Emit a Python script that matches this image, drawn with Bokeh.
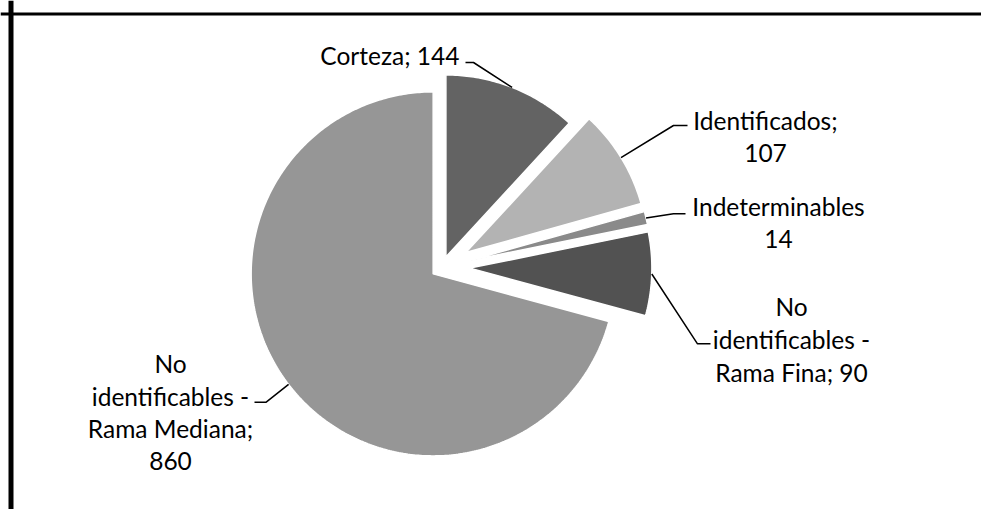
import numpy as np
from bokeh.plotting import figure
from bokeh.models import Range1d, Span, ColumnDataSource
from bokeh.core.properties import value
from bokeh.embed import file_html
from bokeh.resources import INLINE

# ---- data ----
categories = ["Corteza", "Identificados", "Indeterminables",
              "No identificables - Rama Fina", "No identificables - Rama Mediana"]
values = [144, 107, 14, 90, 860]
colors = ["#636363", "#b3b3b3", "#8a8a8a", "#525252", "#969696"]
label_lines = [
    ["Corteza; 144"],
    ["Identificados;", "107"],
    ["Indeterminables", "14"],
    ["No", "identificables -", "Rama Fina; 90"],
    ["No", "identificables -", "Rama Mediana;", "860"],
]

# ---- layout (pixel-like data coordinates, y downward) ----
W, H = 981, 509
cx, cy, R = 441.4, 266.7, 182.0
explode = [11, 28, 28, 28, 11]
label_x = [459, 765, 778, 791, 170]
label_y0 = [54.7, 119.7, 206.3, 306.3, 363.0]
label_align = ["right", "center", "center", "center", "center"]
line_step = 32.6
leader_elbow = [(473, 62), (673, 125), (673, 213.3), (697, 343.3), (265.7, 401.7)]
leader_end = [(465, 62), (687, 125), (685, 213.3), (710, 343.3), (254, 401.7)]

p = figure(width=W, height=H, x_range=Range1d(0, W), y_range=Range1d(H, 0),
           output_backend="svg", toolbar_location=None, min_border=0,
           x_axis_location=None, y_axis_location=None)
p.grid.visible = False
p.outline_line_color = None
p.background_fill_color = "white"

# frame lines
p.add_layout(Span(location=10.5, dimension="height", line_color="black", line_width=5))
p.add_layout(Span(location=13.5, dimension="width", line_color="black", line_width=3))

total = float(sum(values))
angles = np.cumsum([0] + values) / total * 2 * np.pi  # clockwise from top

def pt(theta, rad, ox, oy):
    return ox + rad * np.sin(theta), oy - rad * np.cos(theta)

xs, ys, anchors = [], [], []
for i, v in enumerate(values):
    a0, a1 = angles[i], angles[i + 1]
    mid = (a0 + a1) / 2
    ox, oy = pt(mid, explode[i], cx, cy)
    th = np.linspace(a0, a1, max(8, int((a1 - a0) * 80)))
    px, py = pt(th, R, ox, oy)
    xs.append([ox] + list(px))
    ys.append([oy] + list(py))
    anchors.append(pt(mid, R + explode[i], cx, cy))

p.patches(xs, ys, fill_color=colors, line_color="white", line_width=1.5)

# leader lines
for i in range(len(values)):
    ax_, ay_ = anchors[i]
    ex, ey = leader_elbow[i]
    tx, ty = leader_end[i]
    p.line([ax_, ex, tx], [ay_, ey, ty], line_color="black", line_width=1.5)

# labels
tx, ty, tt, ta = [], [], [], []
for i, lines in enumerate(label_lines):
    for j, s in enumerate(lines):
        tx.append(label_x[i])
        ty.append(label_y0[i] + j * line_step)
        tt.append(s)
        ta.append(label_align[i])
src = ColumnDataSource(dict(x=tx, y=ty, text=tt, align=ta))
p.text(x="x", y="y", text="text", source=src, text_align="align",
       text_baseline="alphabetic", text_font=value("Lato"),
       text_font_size="24.5px", text_color="black")

open("out.html", "w").write(file_html(p, INLINE))
